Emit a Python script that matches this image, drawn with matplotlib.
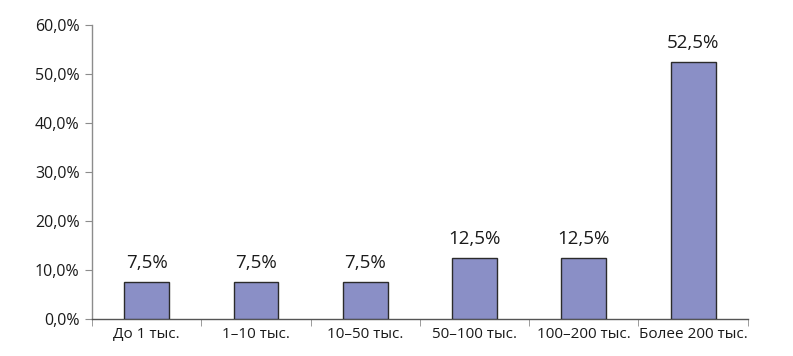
import matplotlib.pyplot as plt
import numpy as np

# DATA
categories = ['До 1 тыс.', '1–10 тыс.', '10–50 тыс.', '50–100 тыс.', '100–200 тыс.', 'Более 200 тыс.']
shares = [7.5, 7.5, 7.5, 12.5, 12.5, 52.5]
yticks = [0, 10, 20, 30, 40, 50, 60]

plt.rcParams['font.family'] = ['Open Sans', 'DejaVu Sans']

BAR_COLOR = '#8a8fc6'
AXIS_COLOR = '#8c8c8c'

fig = plt.figure(figsize=(7.93, 3.56), dpi=100)
ax = fig.add_axes([0.116, 0.104, 0.827, 0.826])

x = np.arange(len(categories))
ax.bar(x, shares, width=0.41, color=BAR_COLOR, edgecolor='#2b2b2b', linewidth=1.0, zorder=3)

for xi, v in zip(x, shares):
    ax.text(xi, v + 2.0, f'{v:.1f}%'.replace('.', ','), ha='center', va='bottom',
            fontsize=13.5, color='#1a1a1a')

ax.set_xlim(-0.5, len(categories) - 0.5)
ax.set_ylim(0, 60)

ax.set_yticks(yticks)
ax.set_yticklabels([f'{t:.1f}%'.replace('.', ',') for t in yticks], fontsize=11.5, color='#1a1a1a')

ax.set_xticks(x)
ax.set_xticklabels(categories, fontsize=11, color='#1a1a1a')
ax.set_xticks(np.arange(-0.5, len(categories), 1), minor=True)
ax.tick_params(axis='x', which='major', length=0, pad=6)
ax.tick_params(axis='x', which='minor', length=5, color=AXIS_COLOR, direction='out')
ax.tick_params(axis='y', length=5, color=AXIS_COLOR, direction='out', pad=4)

for side in ['top', 'right']:
    ax.spines[side].set_visible(False)
ax.spines['left'].set_color(AXIS_COLOR)
ax.spines['bottom'].set_color('#555555')
ax.spines['left'].set_linewidth(1.0)
ax.spines['bottom'].set_linewidth(1.0)

plt.savefig('out.png', dpi=100, facecolor='white')
plt.close(fig)
